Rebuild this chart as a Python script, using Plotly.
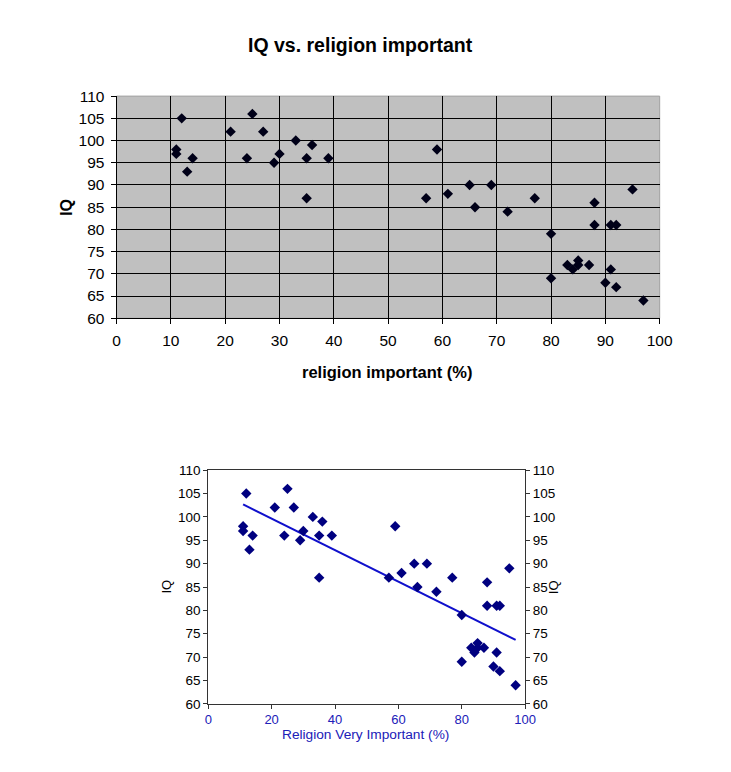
import numpy as np
import plotly.graph_objects as go

# Data: religion important (%) vs IQ
religion = [12, 11, 11, 14, 13, 21, 25, 27, 24, 29, 30, 33, 36, 35, 39, 35,
            59, 57, 61, 65, 66, 69, 72, 77, 80, 80, 83, 84, 85, 85, 87, 88,
            88, 91, 92, 91, 90, 92, 95, 97]
iq = [105, 98, 97, 96, 93, 102, 106, 102, 96, 95, 97, 100, 99, 96, 96, 87,
      98, 87, 88, 90, 85, 90, 84, 87, 79, 69, 72, 71, 73, 72, 72, 86,
      81, 81, 81, 71, 68, 67, 89, 64]
x_ticks = [0, 10, 20, 30, 40, 50, 60, 70, 80, 90, 100]
x_ticks_bottom = [0, 20, 40, 60, 80, 100]
y_ticks = [60, 65, 70, 75, 80, 85, 90, 95, 100, 105, 110]

# page geometry (the photographed page is slightly downscaled)
S = 0.98
OX, OY = 11, 16
W, H = 727, 756


def px(x):
    return (x / S - OX) / W


def py(y):
    return 1 - (y / S - OY) / H


# linear trendline (least squares) from the data
slope, intercept = np.polyfit(religion, iq, 1)
tx = [min(religion), max(religion)]
ty = [slope * v + intercept for v in tx]

FONT = "Liberation Sans, Arial, sans-serif"
BLUE = "#2020B8"

fig = go.Figure()
fig.add_trace(go.Scatter(x=religion, y=iq, mode="markers", xaxis="x", yaxis="y",
                         marker=dict(symbol="diamond", size=8, color="#000018"),
                         showlegend=False, hoverinfo="x+y"))
fig.add_trace(go.Scatter(x=tx, y=ty, mode="lines", xaxis="x2", yaxis="y2",
                         line=dict(color="#1010CC", width=2),
                         showlegend=False, hoverinfo="skip"))
fig.add_trace(go.Scatter(x=religion, y=iq, mode="markers", xaxis="x2", yaxis="y2",
                         marker=dict(symbol="diamond", size=8, color="#000080"),
                         showlegend=False, hoverinfo="x+y"))
fig.add_trace(go.Scatter(x=religion, y=iq, mode="markers", xaxis="x2", yaxis="y3",
                         marker=dict(symbol="diamond", size=8, color="rgba(0,0,0,0)"),
                         showlegend=False, hoverinfo="skip"))

top_x = [px(115.7), px(660.7)]
top_y = [py(317.7), py(95)]
bot_x = [px(207.7), px(525.7)]
bot_y = [py(704.3), py(470)]

fig.update_layout(
    width=W, height=H, autosize=False,
    margin=dict(l=0, r=0, t=0, b=0),
    paper_bgcolor="white", plot_bgcolor="rgba(0,0,0,0)",
    font=dict(family=FONT, color="black"),
    xaxis=dict(domain=top_x, anchor="y", range=[0, 100], tickvals=x_ticks,
               showgrid=True, gridcolor="#000000", gridwidth=1,
               showline=True, linecolor="#000000", linewidth=1,
               ticks="outside", ticklen=5, tickcolor="#000000",
               ticklabelstandoff=3,
               tickfont=dict(size=15.5, color="black"), zeroline=False,
               fixedrange=True),
    yaxis=dict(domain=top_y, anchor="x", range=[60, 110], tickvals=y_ticks,
               showgrid=True, gridcolor="#000000", gridwidth=1,
               showline=True, linecolor="#000000", linewidth=1,
               ticks="outside", ticklen=5, tickcolor="#000000",
               ticklabelstandoff=3,
               tickfont=dict(size=15.5, color="black"), zeroline=False,
               fixedrange=True),
    xaxis2=dict(domain=bot_x, anchor="y2", range=[0, 100], tickvals=x_ticks_bottom,
                showgrid=False, showline=True, linecolor="#333333", linewidth=1,
                mirror=True, ticks="outside", ticklen=4, tickcolor="#333333",
                tickfont=dict(size=13, color=BLUE), zeroline=False,
                fixedrange=True),
    yaxis2=dict(domain=bot_y, anchor="x2", range=[60, 110], tickvals=y_ticks,
                showgrid=False, showline=True, linecolor="#333333", linewidth=1,
                ticks="outside", ticklen=4, tickcolor="#333333",
                tickfont=dict(size=13.5, color="black"), zeroline=False,
                fixedrange=True),
    yaxis3=dict(domain=bot_y, anchor="x2", overlaying="y2", side="right",
                range=[60, 110], tickvals=y_ticks,
                showgrid=False, showline=True, linecolor="#333333", linewidth=1,
                ticks="outside", ticklen=4, tickcolor="#333333",
                tickfont=dict(size=13.5, color="black"), zeroline=False,
                fixedrange=True),
    shapes=[
        dict(type="rect", xref="x domain", yref="y domain", x0=0, x1=1, y0=0, y1=1,
             fillcolor="#C0C0C0", line=dict(color="#A0A0A0", width=1), layer="below"),
    ],
    annotations=[
        dict(text="<b>IQ vs. religion important</b>", xref="paper", yref="paper",
             x=px(360), y=py(44), showarrow=False, font=dict(size=19.5, color="black"),
             xanchor="center", yanchor="middle"),
        dict(text="<b>IQ</b>", xref="paper", yref="paper", x=px(66), y=py(207),
             showarrow=False, textangle=-90, font=dict(size=16, color="black"),
             xanchor="center", yanchor="middle"),
        dict(text="<b>religion important (%)</b>", xref="paper", yref="paper",
             x=px(388), y=py(372), showarrow=False, font=dict(size=16.5, color="black"),
             xanchor="center", yanchor="middle"),
        dict(text="Religion Very Important (%)", xref="paper", yref="paper",
             x=px(366), y=py(735), showarrow=False, font=dict(size=13.7, color=BLUE),
             xanchor="center", yanchor="middle"),
        dict(text="IQ", xref="paper", yref="paper", x=px(166), y=py(587),
             showarrow=False, textangle=-90, font=dict(size=13, color="black"),
             xanchor="center", yanchor="middle"),
        dict(text="IQ", xref="paper", yref="paper", x=px(555), y=py(587),
             showarrow=False, textangle=-90, font=dict(size=13, color="black"),
             xanchor="center", yanchor="middle"),
    ],
)

fig.write_html("out.html")
